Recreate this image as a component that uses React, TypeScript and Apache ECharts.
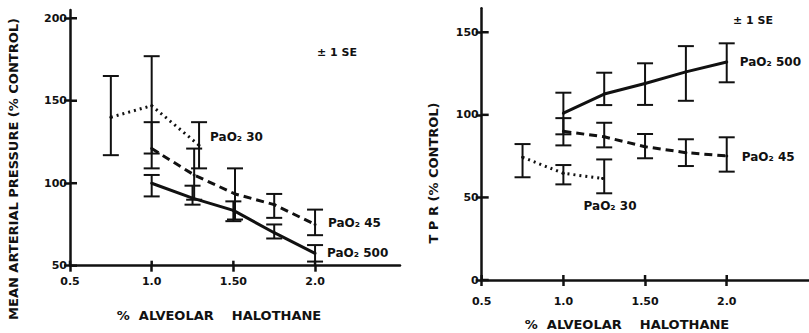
import React, { useEffect, useRef } from "react";
import * as echarts from "echarts";

// ---- tick values / labels ----
const xTickValues = [0.5, 1, 1.5, 2];
const xTickLabels = ["0.5", "1.0", "1.50", "2.0"];
const mapTickValues = [50, 100, 150, 200];
const tprTickValues = [0, 50, 100, 150];

// ---- Left panel: mean arterial pressure (% control) ----
const mapX30 = [0.75, 1.0, 1.29];
const mapMean30 = [140, 147, 123];
const mapLow30 = [117, 118, 109];
const mapHigh30 = [165, 177, 137];

const mapX45 = [1.0, 1.26, 1.51, 1.75, 2.0];
const mapMean45 = [121, 105, 93.5, 87, 75];
const mapLow45 = [109, 90, 78, 79, 68.5];
const mapHigh45 = [137, 121, 109, 93.5, 84];

const mapX500 = [1.0, 1.25, 1.5, 1.75, 2.0];
const mapMean500 = [100, 91, 83.5, 70, 57.5];
const mapLow500 = [92, 87, 77, 66.5, 52.5];
const mapHigh500 = [105, 98.5, 89, 75, 62.5];

// ---- Right panel: TPR (% control) ----
const tprX30 = [0.75, 1.0, 1.24];
const tprMean30 = [74.3, 64.6, 61.5];
const tprLow30 = [62.2, 57.9, 52.5];
const tprHigh30 = [82.3, 69.6, 73];
const tprBarX30 = [0.75, 1.0, 1.25];

const tprX45 = [1.0, 1.25, 1.5, 1.75, 2.0];
const tprMean45 = [90, 86.7, 80.7, 77.1, 75.1];
const tprLow45 = [81.5, 80.3, 73.7, 69, 65.6];
const tprHigh45 = [98, 95.2, 88.4, 85.2, 86.4];

const tprX500 = [1.0, 1.25, 1.5, 1.75, 2.0];
const tprMean500 = [101, 112.6, 119, 126, 132];
const tprLow500 = [88.2, 105.9, 106, 108.5, 119.7];
const tprHigh500 = [113.4, 125.5, 131.2, 141.6, 143.3];

const INK = "#111";
const FONT = "DejaVu Sans";

const pts = (xs: number[], ys: number[]) => xs.map((x, i) => [x, ys[i]]);
const bars = (xs: number[], lo: number[], hi: number[]) => xs.map((x, i) => [x, lo[i], hi[i]]);

const errRender = (params: any, api: any) => {
  const x = api.value(0);
  const lo = api.value(1);
  const hi = api.value(2);
  const t = api.coord([x, hi]);
  const b = api.coord([x, lo]);
  const w = 8;
  const st = { stroke: INK, lineWidth: 2 };
  return {
    type: "group",
    children: [
      { type: "line", shape: { x1: t[0], y1: t[1], x2: b[0], y2: b[1] }, style: st },
      { type: "line", shape: { x1: t[0] - w, y1: t[1], x2: t[0] + w, y2: t[1] }, style: st },
      { type: "line", shape: { x1: b[0] - w, y1: b[1], x2: b[0] + w, y2: b[1] }, style: st },
    ],
  };
};

const errSeries = (data: number[][], xi: number, yi: number) => ({
  type: "custom",
  xAxisIndex: xi,
  yAxisIndex: yi,
  renderItem: errRender,
  encode: { x: 0, y: [1, 2] },
  data,
  z: 3,
});

// inner half of the crossing axis ticks (dir 0 = y-axis tick, 1 = x-axis tick)
const innerTickRender = (params: any, api: any) => {
  const p = api.coord([api.value(0), api.value(1)]);
  const dir = api.value(2);
  const st = { stroke: INK, lineWidth: 2.5 };
  if (dir === 0) {
    return { type: "line", shape: { x1: p[0], y1: p[1], x2: p[0] + 7, y2: p[1] }, style: st };
  }
  return { type: "line", shape: { x1: p[0], y1: p[1], x2: p[0], y2: p[1] - 5 }, style: st };
};

const innerTicks = (grid: number, yMin: number, yTicks: number[]) => ({
  type: "custom",
  xAxisIndex: grid,
  yAxisIndex: grid,
  renderItem: innerTickRender,
  encode: { x: 0, y: 1 },
  clip: false,
  data: [
    ...yTicks.map((v) => [0.5, v, 0]),
    ...xTickValues.map((v) => [v, yMin, 1]),
  ],
  silent: true,
  z: 5,
});

const lineSeries = (
  name: string,
  data: number[][],
  xi: number,
  yi: number,
  type: any,
  width: number,
  offset: number[]
) => ({
  type: "line",
  name,
  xAxisIndex: xi,
  yAxisIndex: yi,
  data,
  symbol: "circle",
  symbolSize: 3,
  itemStyle: { color: INK },
  lineStyle: { color: INK, width, type, cap: "butt" },
  endLabel: {
    show: true,
    formatter: name,
    color: INK,
    fontFamily: FONT,
    fontWeight: "bold",
    fontSize: 12,
    align: "left",
    verticalAlign: "middle",
    distance: 0,
    offset,
  },
  z: 4,
});

const labelStyle = { color: INK, fontFamily: FONT, fontWeight: "bold" as const, fontSize: 11 };
const tickLine = { color: INK, width: 2.5 };

const xAxis = (grid: number, max: number, margin: number) => ({
  gridIndex: grid,
  type: "value",
  min: 0.5,
  max,
  position: "bottom",
  axisLine: { show: true, onZero: false, lineStyle: { color: INK, width: 2.5 } },
  axisTick: { show: true, customValues: xTickValues, length: 6, lineStyle: tickLine },
  axisLabel: {
    show: true,
    customValues: xTickValues,
    margin,
    ...labelStyle,
    formatter: (v: number) => xTickLabels[xTickValues.indexOf(v)] ?? "",
  },
  splitLine: { show: false },
});

const yAxis = (grid: number, min: number, max: number, ticks: number[]) => ({
  gridIndex: grid,
  type: "value",
  min,
  max,
  position: "left",
  axisLine: { show: true, onZero: false, lineStyle: { color: INK, width: 2.5 } },
  axisTick: { show: true, customValues: ticks, length: 6, lineStyle: tickLine },
  axisLabel: { show: true, customValues: ticks, margin: 3, ...labelStyle },
  splitLine: { show: false },
});

const titleText = (text: string, x: number, y: number, rotate = false) => ({
  type: "text",
  x,
  y,
  rotation: rotate ? Math.PI / 2 : 0,
  style: {
    text,
    fill: INK,
    font: `bold 13px "${FONT}"`,
    align: "center",
    verticalAlign: "middle",
  },
});

export default function App() {
  const ref = useRef<HTMLDivElement>(null);
  useEffect(() => {
    if (!ref.current) return;
    const chart = echarts.init(ref.current, null, { renderer: "svg" });
    chart.setOption({
      animation: false,
      backgroundColor: "#fff",
      grid: [
        { left: 70, top: 10, width: 330, height: 255.7 },
        { left: 481.7, top: 8.3, width: 326.7, height: 271.7 },
      ],
      xAxis: [xAxis(0, 2.52, 10), xAxis(1, 2.5, 16)],
      yAxis: [yAxis(0, 50, 205, mapTickValues), yAxis(1, 0, 164.5, tprTickValues)],
      series: [
        innerTicks(0, 50, mapTickValues),
        innerTicks(1, 0, tprTickValues),
        lineSeries("PaO₂ 30", pts(mapX30, mapMean30), 0, 0, [2, 4], 3, [11, -8]),
        lineSeries("PaO₂ 45", pts(mapX45, mapMean45), 0, 0, [8, 5], 3, [13, -1]),
        lineSeries("PaO₂ 500", pts(mapX500, mapMean500), 0, 0, "solid", 3, [12, 0]),
        errSeries(bars(mapX30, mapLow30, mapHigh30), 0, 0),
        errSeries(bars(mapX45, mapLow45, mapHigh45), 0, 0),
        errSeries(bars(mapX500, mapLow500, mapHigh500), 0, 0),
        lineSeries("PaO₂ 30", pts(tprX30, tprMean30), 1, 1, [2, 4], 3, [-19, 28]),
        lineSeries("PaO₂ 45", pts(tprX45, tprMean45), 1, 1, [8, 5], 3, [15, 1]),
        lineSeries("PaO₂ 500", pts(tprX500, tprMean500), 1, 1, "solid", 3, [13, 0]),
        errSeries(bars(tprBarX30, tprLow30, tprHigh30), 1, 1),
        errSeries(bars(tprX45, tprLow45, tprHigh45), 1, 1),
        errSeries(bars(tprX500, tprLow500, tprHigh500), 1, 1),
      ],
      graphic: [
        titleText("MEAN ARTERIAL PRESSURE (% CONTROL)", 13, 169, true),
        titleText("%  ALVEOLAR    HALOTHANE", 219, 315),
        titleText("T P R (% CONTROL)", 433, 173, true),
        titleText("%  ALVEOLAR    HALOTHANE", 627, 324),
        {
          type: "text",
          x: 317,
          y: 52,
          style: { text: "± 1 SE", fill: INK, font: `bold 11px "${FONT}"`, verticalAlign: "middle" },
        },
        {
          type: "text",
          x: 733,
          y: 20,
          style: { text: "± 1 SE", fill: INK, font: `bold 11px "${FONT}"`, verticalAlign: "middle" },
        },
      ],
    });
    return () => chart.dispose();
  }, []);
  return (
    <div
      ref={ref}
      style={{ position: "absolute", left: 0, top: 0, width: 809, height: 333 }}
    />
  );
}
